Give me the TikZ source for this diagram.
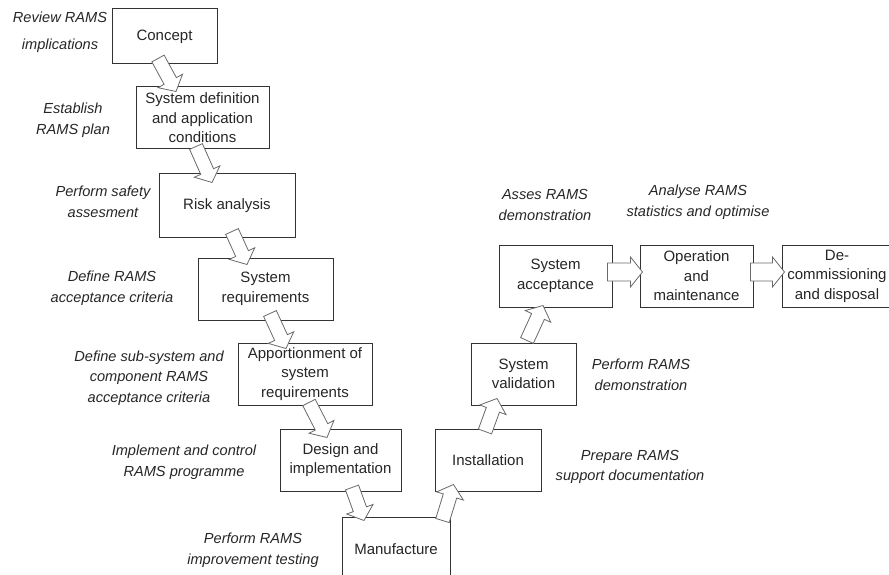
\documentclass[tikz,border=0pt]{standalone}
\usepackage{fontspec}
\setmainfont{Liberation Sans}
\usetikzlibrary{calc,positioning}

\definecolor{boxline}{HTML}{333333}
\definecolor{arrowline}{HTML}{6A6A6A}
\definecolor{txt}{HTML}{262626}

\tikzset{
  stage/.style={draw=boxline, line width=1pt, fill=white, align=center, text=txt,
    inner sep=0pt, font=\fontsize{15}{19.5}\selectfont},
  note/.style={align=center, text=txt, font=\itshape\fontsize{14.6}{20.5}\selectfont},
  rarrow/.style={draw=arrowline, line width=0.8pt, fill=white, line join=miter}
}

% hollow block arrow: tail, tip, half shaft width, half head width
\newcommand{\blockarrow}[4]{%
  \draw[rarrow] ($(#1)!#3!90:(#2)$)
    -- ($(#2)!12pt!(#1)!#3!-90:(#1)$)
    -- ($(#2)!12pt!(#1)!#4!-90:(#1)$)
    -- (#2)
    -- ($(#2)!12pt!(#1)!#4!90:(#1)$)
    -- ($(#2)!12pt!(#1)!#3!90:(#1)$)
    -- ($(#1)!#3!-90:(#2)$) -- cycle;}

\begin{document}
\begin{tikzpicture}[x=1pt,y=-1pt]
\useasboundingbox (0,0) rectangle (889,575);
\clip (0,0) rectangle (889,575);

% left branch
\node[stage, minimum width=105, minimum height=55] (concept) at (164.5,36.5) {Concept};
\node[stage, minimum width=133, minimum height=62] (sysdef) at (202.5,118) {System definition\\and application\\conditions};
\node[stage, minimum width=136, minimum height=63] (risk) at (227,205.5) {Risk analysis};
\node[stage, minimum width=135, minimum height=62] (sysreq) at (265.5,289) {System\\requirements};
\node[stage, minimum width=134, minimum height=62] (apport) at (305,374) {Apportionment of\\system\\requirements};
\node[stage, minimum width=121, minimum height=62] (design) at (340.5,460) {Design and\\implementation};
\node[stage, minimum width=108, minimum height=64] (manuf) at (396,549) {Manufacture};

% right branch
\node[stage, minimum width=106, minimum height=62] (install) at (488,460) {Installation};
\node[stage, minimum width=105, minimum height=62] (sysval) at (523.5,374) {System\\validation};
\node[stage, minimum width=113, minimum height=62] (sysacc) at (555.5,276) {System\\acceptance};
\node[stage, minimum width=113, minimum height=62] (operation) at (696.5,276) {Operation\\and\\maintenance};
\node[stage, minimum width=110, minimum height=62] (decom) at (837,276) {De-\\commissioning\\and disposal};

% RAMS tasks
\node[note, font=\itshape\fontsize{14.6}{27}\selectfont] (n-review) at (60,32) {Review RAMS\\implications};
\node[note] (n-plan) at (73,120) {Establish\\RAMS plan};
\node[note] (n-safety) at (103,202) {Perform safety\\assesment};
\node[note] (n-criteria) at (112,288) {Define RAMS\\acceptance criteria};
\node[note] (n-subsys) at (149,378) {Define sub-system and\\component RAMS\\acceptance criteria};
\node[note] (n-programme) at (184,462) {Implement and control\\RAMS programme};
\node[note] (n-testing) at (253,550) {Perform RAMS\\improvement testing};
\node[note] (n-asses) at (545,205) {Asses RAMS\\demonstration};
\node[note] (n-stats) at (698,202) {Analyse RAMS\\statistics and optimise};
\node[note] (n-demo) at (641,375) {Perform RAMS\\demonstration};
\node[note] (n-docs) at (630,467) {Prepare RAMS\\support documentation};

% arrow ends
\coordinate (t1) at ($(concept.south)+(-6.5,-6)$);   \coordinate (h1) at ($(sysdef.north)+(-26.5,5)$);
\coordinate (t2) at ($(sysdef.south)+(-6.5,-3)$);    \coordinate (h2) at ($(risk.north)+(-15,9)$);
\coordinate (t3) at ($(risk.south)+(5,-6)$);         \coordinate (h3) at ($(sysreq.north)+(-18.5,7)$);
\coordinate (t4) at ($(sysreq.south)+(4.5,-7)$);     \coordinate (h4) at ($(apport.north)+(-19,6)$);
\coordinate (t5) at ($(apport.south)+(4,-3)$);       \coordinate (h5) at ($(design.north)+(-13.5,9)$);
\coordinate (t6) at ($(design.south)+(11.5,-4)$);    \coordinate (h6) at ($(manuf.north)+(-32,4)$);
\coordinate (t7) at ($(manuf.north east)+(-8,4)$);   \coordinate (h7) at ($(install.south west)+(19,-7)$);
\coordinate (t8) at ($(install.north)+(-3,3)$);      \coordinate (h8) at ($(sysval.south)+(-26.5,-7)$);
\coordinate (t9) at ($(sysval.north)+(3.5,-2)$);     \coordinate (h9) at ($(sysacc.south)+(-12.5,-2)$);
\coordinate (t10) at ($(sysacc.east)+(-5,-4)$);      \coordinate (h10) at ($(operation.west)+(3,-4)$);
\coordinate (t11) at ($(operation.east)+(-3,-4)$);   \coordinate (h11) at ($(decom.west)+(3,-4)$);

\foreach \i in {1,...,9}
  \blockarrow{t\i}{h\i}{7pt}{14pt};
\blockarrow{t10}{h10}{9pt}{15pt}
\blockarrow{t11}{h11}{9pt}{15pt}
\end{tikzpicture}
\end{document}
